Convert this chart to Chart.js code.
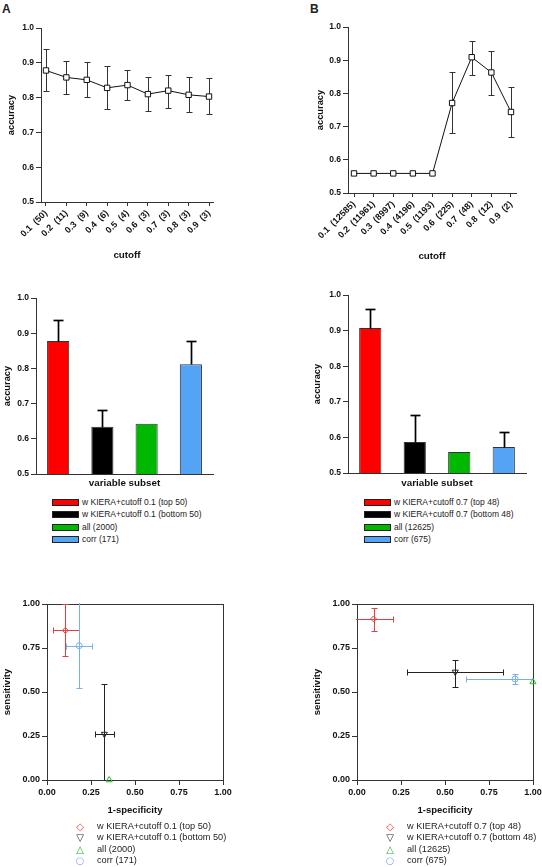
<!DOCTYPE html>
<html>
<head>
<meta charset="utf-8">
<script src="https://cdn.jsdelivr.net/npm/chart.js@4.4.0/dist/chart.umd.min.js"></script>
<style>
  html, body { margin: 0; background: #fff; overflow: hidden; }
  body { font-family: "Liberation Sans", Arial, sans-serif; color: #222; }
  #page { position: relative; width: 542px; height: 867px; overflow: hidden; }
  canvas { position: absolute; }
  .tag { position: absolute; font-weight: bold; font-size: 12px; line-height: 12px; }
  .legend { position: absolute; white-space: nowrap; }
  .legend .row { position: relative; }
  .sw { position: absolute; left: 0; box-sizing: border-box; width: 27px; height: 7px; border: 1px solid #222; }
  .mk { position: absolute; left: 0; width: 10px; text-align: center; font-family: "DejaVu Sans", sans-serif; }
</style>
</head>
<body>
<div id="page">
  <div class="tag" style="left:2px;top:3px">A</div>
  <div class="tag" style="left:310px;top:3px">B</div>
  <canvas id="cA" width="271" height="275" style="left:0;top:0"></canvas>
  <canvas id="cB" width="271" height="275" style="left:271px;top:0"></canvas>
  <canvas id="cC" width="271" height="215" style="left:0;top:280px"></canvas>
  <canvas id="cD" width="271" height="215" style="left:271px;top:280px"></canvas>
  <canvas id="cE" width="271" height="245" style="left:0;top:580px"></canvas>
  <canvas id="cF" width="275" height="245" style="left:271px;top:580px"></canvas>
  <div class="legend" id="legC" style="left:52px;top:496px"></div>
  <div class="legend" id="legD" style="left:364px;top:496px"></div>
  <div class="legend" id="legE" style="left:75px;top:821px"></div>
  <div class="legend" id="legF" style="left:385px;top:821px"></div>
</div>
<script>
// --- panel A: accuracy vs cutoff ---
const cutoffLabelsA = ['0.1  (50)', '0.2  (11)', '0.3  (9)', '0.4  (6)', '0.5  (4)', '0.6  (3)', '0.7  (3)', '0.8  (3)', '0.9  (3)'];
const accA     = [0.878, 0.858, 0.851, 0.828, 0.836, 0.810, 0.820, 0.808, 0.803];
const accALow  = [0.820, 0.811, 0.801, 0.766, 0.793, 0.761, 0.771, 0.758, 0.752];
const accAHigh = [0.939, 0.904, 0.902, 0.891, 0.878, 0.859, 0.866, 0.859, 0.855];

// --- panel B ---
const cutoffLabelsB = ['0.1  (12585)', '0.2  (11961)', '0.3  (8997)', '0.4  (4196)', '0.5  (1193)', '0.6  (225)', '0.7  (48)', '0.8  (12)', '0.9  (2)'];
const accB     = [0.559, 0.559, 0.559, 0.559, 0.559, 0.771, 0.909, 0.863, 0.744];
const accBLow  = [null, null, null, null, null, 0.680, 0.856, 0.796, 0.669];
const accBHigh = [null, null, null, null, null, 0.865, 0.958, 0.928, 0.820];

// --- panels C / D: variable subsets ---
const subsetLabelsC = ['w KIERA+cutoff 0.1 (top 50)', 'w KIERA+cutoff 0.1 (bottom 50)', 'all (2000)', 'corr (171)'];
const subsetAccC    = [0.878, 0.634, 0.643, 0.812];
const subsetErrC    = [0.938, 0.681, null, 0.878];
const subsetLabelsD = ['w KIERA+cutoff 0.7 (top 48)', 'w KIERA+cutoff 0.7 (bottom 48)', 'all (12625)', 'corr (675)'];
const subsetAccD    = [0.907, 0.587, 0.559, 0.573];
const subsetErrD    = [0.960, 0.662, null, 0.615];
const subsetColors  = ['#ff0000', '#000000', '#00b800', '#55a3f5'];

// --- panels E / F: sensitivity vs 1-specificity ---
const rocColors = ['#e0403f', '#222222', '#2db82d', '#7ab0e8'];
const rocMarks  = ['\u25C7', '\u25BD', '\u25B3', '\u25CB'];
const specE     = [0.104, 0.326, 0.353, 0.183];
const specELow  = [0.032, 0.272, null, 0.109];
const specEHigh = [0.179, 0.383, null, 0.255];
const sensE     = [0.850, 0.261, 0.000, 0.763];
const sensELow  = [0.706, -0.05, null, 0.520];
const sensEHigh = [1.000, 0.545, null, 1.05];
const specF     = [0.094, 0.558, 1.000, 0.898];
const specFLow  = [-0.02, 0.282, null, 0.620];
const specFHigh = [0.206, 0.830, null, 1.03];
const sensF     = [0.915, 0.614, 0.557, 0.574];
const sensFLow  = [0.848, 0.528, null, 0.543];
const sensFHigh = [0.980, 0.683, null, 0.600];

const FONT = '"Liberation Sans", Arial, sans-serif';
Chart.defaults.font.family = FONT;
Chart.defaults.color = '#111';

// error bars, drawn from dataset fields errYLo/errYHi/errXLo/errXHi
function drawErrors(chart, opts) {
  const { ctx, chartArea: a, scales: { x, y } } = chart;
  const cap = opts.cap || 3;
  ctx.save();
  ctx.beginPath();
  ctx.rect(a.left - 1, a.top - 1, a.right - a.left + 2, a.bottom - a.top + 2);
  ctx.clip();
  ctx.lineWidth = opts.width || 1;
  const seg = (x1, y1, x2, y2) => { ctx.beginPath(); ctx.moveTo(x1, y1); ctx.lineTo(x2, y2); ctx.stroke(); };
  chart.data.datasets.forEach((ds, di) => {
    const meta = chart.getDatasetMeta(di);
    ctx.strokeStyle = ds.errColor || ds.borderColor;
    meta.data.forEach((el, i) => {
      const px = Math.round(el.x) + 0.5, py = Math.round(el.y) + 0.5;
      ['errYLo', 'errYHi'].forEach(k => {
        const v = ds[k] && ds[k][i];
        if (v == null) return;
        const p = Math.round(y.getPixelForValue(v)) + 0.5;
        seg(px, py, px, p);
        if (v >= y.min && v <= y.max) seg(px - cap, p, px + cap, p);
      });
      ['errXLo', 'errXHi'].forEach(k => {
        const v = ds[k] && ds[k][i];
        if (v == null) return;
        const p = Math.round(x.getPixelForValue(v)) + 0.5;
        seg(px, py, p, py);
        if (v >= x.min && v <= x.max) seg(p, py - cap, p, py + cap);
      });
    });
  });
  ctx.restore();
}
const errorBars = {
  id: 'errorBars',
  beforeDatasetsDraw(chart, args, opts) { if (opts.behind) drawErrors(chart, opts); },
  afterDatasetsDraw(chart, args, opts) { if (!opts.behind) drawErrors(chart, opts); }
};
const frame = {
  id: 'frame',
  beforeDatasetsDraw(chart, args, opts) {
    if (!opts.show) return;
    const { ctx, chartArea: a } = chart;
    ctx.save();
    ctx.strokeStyle = '#333';
    ctx.lineWidth = 1;
    ctx.strokeRect(Math.round(a.left) + 0.5, Math.round(a.top) + 0.5, Math.round(a.right - a.left), Math.round(a.bottom - a.top));
    ctx.restore();
  }
};

function yAxis(min, max, step, digits, title, titlePad, width, size) {
  return {
    type: 'linear', min: min, max: max,
    afterFit: s => { s.width = width; },
    border: { display: true, color: '#333', width: 1 },
    grid: { drawOnChartArea: false, drawTicks: true, tickLength: 5, color: '#333' },
    ticks: { stepSize: step, padding: 2, font: { size: size, weight: 'bold' }, callback: v => Number(v).toFixed(digits) },
    title: { display: true, text: title, font: { size: 9.3, weight: 'bold' }, padding: { top: titlePad, bottom: 0 } }
  };
}
function xTitle(text, pad, size) {
  return { display: true, text: text, font: { size: size || 9.8, weight: 'bold' }, padding: { top: 0, bottom: pad } };
}
function xCutoff(labels, min, max, height, pad) {
  return {
    type: 'linear', min: min, max: max,
    afterFit: s => { s.height = height; },
    afterBuildTicks: s => { s.ticks = labels.map((l, i) => ({ value: i })); },
    border: { display: true, color: '#333', width: 1 },
    grid: { drawOnChartArea: false, drawTicks: true, tickLength: 4, color: '#333' },
    ticks: { autoSkip: false, minRotation: 45, maxRotation: 45, padding: 2, font: { size: 9, weight: 'bold' },
             callback: v => labels[v] },
    title: xTitle('cutoff', pad)
  };
}
function baseOptions(padding) {
  return {
    responsive: false, animation: false, devicePixelRatio: 1, events: [],
    layout: { padding: padding },
    plugins: { legend: { display: false }, tooltip: { enabled: false } }
  };
}

function cutoffChart(id, labels, values, lows, highs, pad, xCfg, yCfg) {
  const o = baseOptions(pad);
  o.plugins.errorBars = { behind: true, cap: 3, width: 1 };
  o.scales = { x: xCfg, y: yCfg };
  return new Chart(document.getElementById(id), {
    type: 'scatter',
    data: { datasets: [{
      data: values.map((v, i) => ({ x: i, y: v })),
      showLine: true, borderColor: '#111', borderWidth: 1,
      pointStyle: 'rect', pointRadius: 3.8, pointBackgroundColor: '#fff',
      pointBorderColor: '#111', pointBorderWidth: 1,
      errYLo: lows, errYHi: highs, errColor: '#333'
    }] },
    options: o,
    plugins: [errorBars]
  });
}

cutoffChart('cA', cutoffLabelsA, accA, accALow, accAHigh,
  { left: 0, top: 28, right: 58, bottom: 0 },
  xCutoff(cutoffLabelsA, -0.245, 8.196, 73, 13.6),
  yAxis(0.5, 1.0, 0.1, 1, 'accuracy', 5.6, 41, 8.5));

cutoffChart('cB', cutoffLabelsB, accB, accBLow, accBHigh,
  { left: 0, top: 27, right: 26, bottom: 0 },
  xCutoff(cutoffLabelsB, -0.306, 8.255, 82, 12.6),
  yAxis(0.5, 1.0, 0.1, 1, 'accuracy', 43.6, 77, 8.5));

function subsetChart(id, values, errs, pad, yWidth, xHeight, yTitlePad) {
  const o = baseOptions(pad);
  o.plugins.errorBars = { behind: false, cap: 5, width: 1.7 };
  o.scales = {
    x: {
      type: 'category', offset: true,
      afterFit: s => { s.height = xHeight; },
      border: { display: true, color: '#333', width: 1 },
      grid: { display: false },
      ticks: { display: false },
      title: xTitle('variable subset', 5.6)
    },
    y: yAxis(0.5, 1.0, 0.1, 1, 'accuracy', yTitlePad, yWidth, 8.5)
  };
  return new Chart(document.getElementById(id), {
    type: 'bar',
    data: { labels: values.map((v, i) => String(i)), datasets: [{
      data: values, backgroundColor: subsetColors, borderColor: '#333', borderWidth: 1,
      barPercentage: 1, categoryPercentage: 0.5,
      errYHi: errs, errColor: '#000'
    }] },
    options: o,
    plugins: [errorBars]
  });
}
subsetChart('cC', subsetAccC, subsetErrC, { left: 0, top: 18, right: 58, bottom: 0 }, 36, 21, 1.6);
subsetChart('cD', subsetAccD, subsetErrD, { left: 0, top: 15, right: 16, bottom: 0 }, 77, 22, 41.3);

function rocChart(id, spec, specLo, specHi, sens, sensLo, sensHi, pad, yWidth, yTitlePad) {
  const o = baseOptions(pad);
  o.plugins.errorBars = { behind: true, cap: 3, width: 1 };
  o.plugins.frame = { show: true };
  const y = yAxis(0, 1, 0.25, 2, 'sensitivity', yTitlePad, yWidth, 9);
  y.title.font.size = 9.5;
  o.scales = {
    x: {
      type: 'linear', min: 0, max: 1,
      afterFit: s => { s.height = 45; },
      border: { display: true, color: '#333', width: 1 },
      grid: { drawOnChartArea: false, drawTicks: true, tickLength: 5, color: '#333' },
      ticks: { stepSize: 0.25, padding: 2, font: { size: 9, weight: 'bold' }, callback: v => Number(v).toFixed(2) },
      title: xTitle('1-specificity', 8.6, 9.5)
    },
    y: y
  };
  const styles = [
    { pointStyle: 'rectRot', rotation: 0, r: 3 },
    { pointStyle: 'triangle', rotation: 180, r: 3.5 },
    { pointStyle: 'triangle', rotation: 0, r: 3.5 },
    { pointStyle: 'circle', rotation: 0, r: 3 }
  ];
  const datasets = spec.map((sx, i) => ({
    data: [{ x: sx, y: sens[i] }],
    pointStyle: styles[i].pointStyle, rotation: styles[i].rotation, pointRadius: styles[i].r,
    borderColor: rocColors[i], pointBorderColor: rocColors[i], pointBackgroundColor: 'rgba(255,255,255,0)',
    pointBorderWidth: 1, clip: false,
    errXLo: [specLo[i]], errXHi: [specHi[i]], errYLo: [sensLo[i]], errYHi: [sensHi[i]]
  }));
  return new Chart(document.getElementById(id), {
    type: 'scatter',
    data: { datasets: datasets },
    options: o,
    plugins: [frame, errorBars]
  });
}
rocChart('cE', specE, specELow, specEHigh, sensE, sensELow, sensEHigh,
  { left: 0, top: 24, right: 48, bottom: 0 }, 47, 1.6);
rocChart('cF', specF, specFLow, specFHigh, sensF, sensFLow, sensFHigh,
  { left: 0, top: 24, right: 13, bottom: 0 }, 86, 40.3);

// legends
function barLegend(id, labels) {
  const el = document.getElementById(id);
  labels.forEach((t, i) => {
    const row = document.createElement('div');
    row.className = 'row';
    row.style.height = '12.3px';
    row.style.lineHeight = '12.3px';
    row.style.fontSize = '8.5px';
    row.innerHTML = '<span class="sw" style="top:3px;background:' + subsetColors[i] + '"></span>' +
                    '<span style="padding-left:30px">' + t + '</span>';
    el.appendChild(row);
  });
}
function rocLegend(id, labels) {
  const el = document.getElementById(id);
  labels.forEach((t, i) => {
    const row = document.createElement('div');
    row.className = 'row';
    row.style.height = '11.4px';
    row.style.lineHeight = '11.4px';
    row.style.fontSize = '9.2px';
    row.innerHTML = '<span class="mk" style="color:' + rocColors[i] + ';font-size:10px">' + rocMarks[i] + '</span>' +
                    '<span style="padding-left:22px">' + t + '</span>';
    el.appendChild(row);
  });
}
barLegend('legC', subsetLabelsC);
barLegend('legD', subsetLabelsD);
rocLegend('legE', subsetLabelsC);
rocLegend('legF', subsetLabelsD);
</script>
</body>
</html>
